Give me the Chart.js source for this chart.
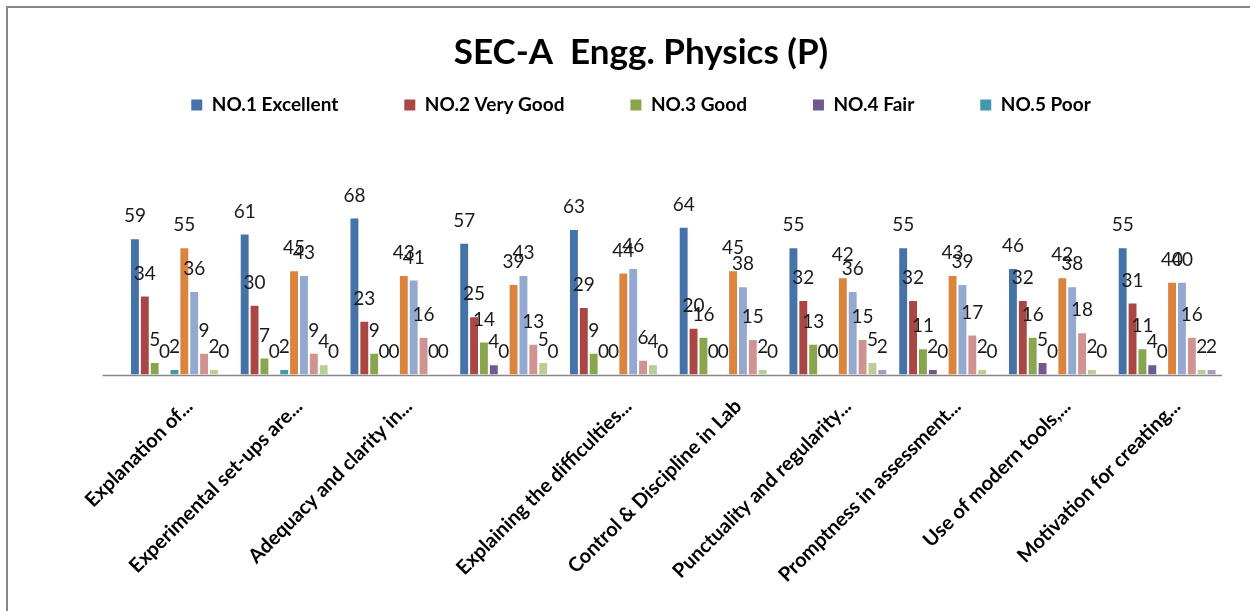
<!DOCTYPE html>
<html>
<head>
<meta charset="utf-8">
<title>SEC-A Engg. Physics (P)</title>
<script src="https://cdn.jsdelivr.net/npm/chart.js@4.4.1/dist/chart.umd.min.js"></script>
<style>
  html, body { margin: 0; padding: 0; background: #fff; overflow: hidden; }
  #frame {
    position: absolute; left: 6px; top: 6px; width: 1266px; height: 605px;
    border-top: 2px solid #878787; border-left: 2px solid #878787;
  }
  #chart { display: block; }
</style>
</head>
<body>
<div id="frame"><canvas id="chart" width="1266" height="603"></canvas></div>
<script>
// categories (4th label is empty in the source sheet)
const categories = [
  'Explanation of...',
  'Experimental set-ups are...',
  'Adequacy and clarity in...',
  '',
  'Explaining the difficulties...',
  'Control & Discipline in Lab',
  'Punctuality and regularity...',
  'Promptness in assessment...',
  'Use of modern tools,...',
  'Motivation for creating...'
];

// rating series shown in the legend
const excellent = [59, 61, 68, 57, 63, 64, 55, 55, 46, 55];
const veryGood  = [34, 30, 23, 25, 29, 20, 32, 32, 32, 31];
const good      = [5, 7, 9, 14, 9, 16, 13, 11, 16, 11];
const fair      = [0, 0, 0, 4, 0, 0, 0, 2, 5, 4];
const poor      = [2, 2, 0, 0, 0, 0, 0, 0, 0, 0];

// second block of series (not in the legend)
const series6  = [55, 45, 43, 39, 44, 45, 42, 43, 42, 40];
const series7  = [36, 43, 41, 43, 46, 38, 36, 39, 38, 40];
const series8  = [9, 9, 16, 13, 6, 15, 15, 17, 18, 16];
const series9  = [2, 4, 0, 5, 4, 2, 5, 2, 2, 2];
const series10 = [0, 0, 0, 0, 0, 0, 2, 0, 0, 2];

const yMax = 109;
const font = 'Lato, "Open Sans", sans-serif';

// value labels above each bar + the axis line
const valueLabels = {
  id: 'valueLabels',
  beforeDatasetsDraw(chart) {
    const ctx = chart.ctx;
    const area = chart.chartArea;
    const y = Math.round(area.bottom) + 0.5;
    ctx.save();
    ctx.strokeStyle = '#878787';
    ctx.lineWidth = 1.5;
    ctx.beginPath();
    ctx.moveTo(area.left - 22, y);
    ctx.lineTo(area.right, y);
    ctx.stroke();
    ctx.restore();
  },
  afterDatasetsDraw(chart) {
    const ctx = chart.ctx;
    ctx.save();
    ctx.font = '19px ' + font;
    ctx.fillStyle = '#1a1a1a';
    ctx.textAlign = 'center';
    ctx.textBaseline = 'middle';
    chart.data.datasets.forEach((ds, i) => {
      chart.getDatasetMeta(i).data.forEach((bar, j) => {
        ctx.fillText(ds.data[j], bar.x, bar.y - 23);
      });
    });
    ctx.restore();
  }
};

const ds = (label, data, color) => ({ label, data, backgroundColor: color, borderWidth: 0 });

new Chart(document.getElementById('chart'), {
  type: 'bar',
  data: {
    labels: categories,
    datasets: [
      ds('NO.1 Excellent', excellent, '#4572A7'),
      ds('NO.2 Very Good', veryGood, '#AA4643'),
      ds('NO.3 Good', good, '#89A54E'),
      ds('NO.4 Fair', fair, '#71588F'),
      ds('NO.5 Poor', poor, '#4198AF'),
      ds('Series6', series6, '#DB843D'),
      ds('Series7', series7, '#93A9CF'),
      ds('Series8', series8, '#D19392'),
      ds('Series9', series9, '#B9CD96'),
      ds('Series10', series10, '#A99BBD')
    ]
  },
  options: {
    responsive: false,
    animation: false,
    layout: { padding: 0 },
    datasets: { bar: { categoryPercentage: 0.9, barPercentage: 0.8 } },
    scales: {
      x: {
        grid: { display: false },
        border: { display: false },
        ticks: {
          color: '#000',
          font: { family: font, size: 20, weight: 'bold' },
          minRotation: 45, maxRotation: 45,
          autoSkip: false,
          padding: 12,
          labelOffset: 10
        },
        afterFit(s) { s.height = 236.5; }
      },
      y: {
        min: 0, max: yMax,
        grid: { display: false },
        border: { display: false },
        ticks: { display: false },
        afterFit(s) { s.width = 116.5; }
      },
      yRight: {
        type: 'linear', position: 'right',
        min: 0, max: yMax,
        grid: { display: false },
        border: { display: false },
        ticks: { display: false },
        afterFit(s) { s.width = 52; }
      }
    },
    plugins: {
      title: {
        display: true,
        text: 'SEC-A  Engg. Physics (P)',
        color: '#000',
        font: { family: font, size: 35, weight: 'bold' },
        padding: { top: 24, bottom: -44.5 }
      },
      legend: {
        labels: {
          boxWidth: 11, boxHeight: 11,
          padding: 66,
          color: '#000',
          font: { family: font, size: 19, weight: 'bold' },
          filter: item => item.datasetIndex < 5
        }
      },
      tooltip: { enabled: false }
    }
  },
  plugins: [valueLabels]
});
</script>
</body>
</html>
